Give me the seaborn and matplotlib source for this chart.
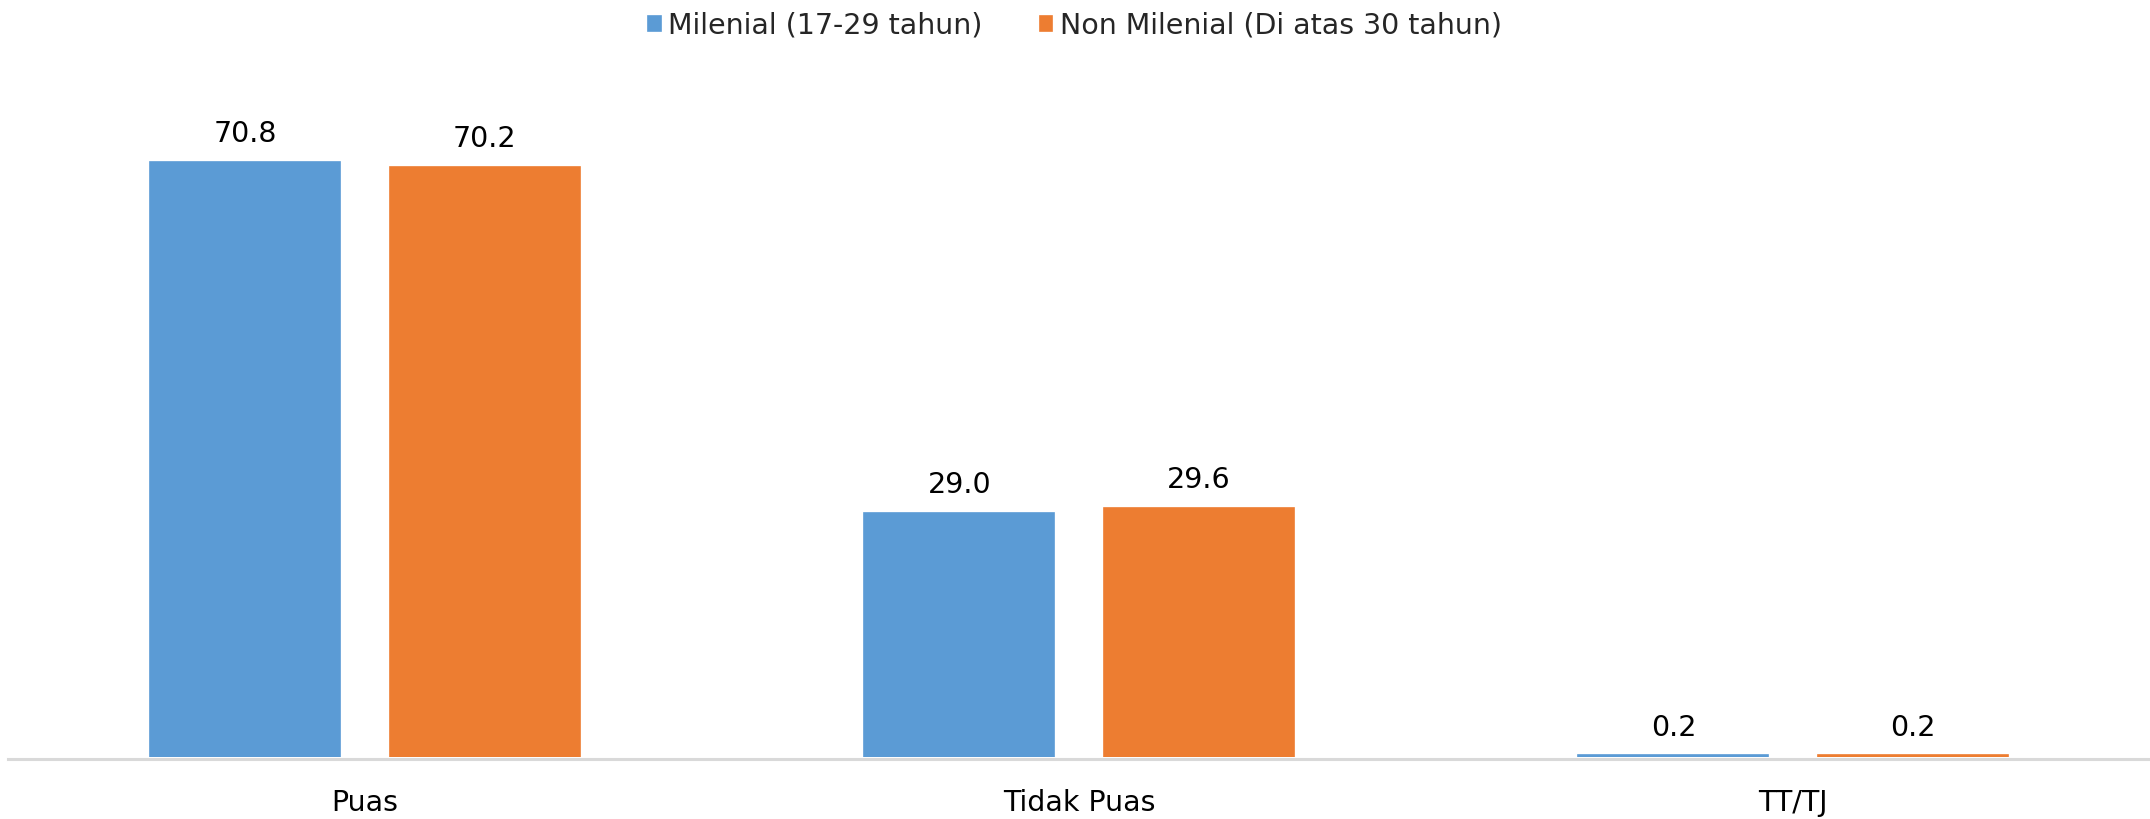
import matplotlib
matplotlib.use("Agg")
import matplotlib.pyplot as plt
import seaborn as sns
import pandas as pd

categories = ["Puas", "Tidak Puas", "TT/TJ"]
series_names = ["Milenial (17-29 tahun)", "Non Milenial (Di atas 30 tahun)"]
milenial = [70.8, 29.0, 0.2]
non_milenial = [70.2, 29.6, 0.2]
colors = ["#5B9BD5", "#ED7D31"]

df = pd.DataFrame({
    "kategori": categories * 2,
    "kelompok": [series_names[0]] * 3 + [series_names[1]] * 3,
    "nilai": milenial + non_milenial,
})

sns.set_theme(style="white")
plt.rcParams["font.family"] = ["DejaVu Sans"]

fig = plt.figure(figsize=(21.5, 8.19), dpi=100)
ax = fig.add_axes([0.0037, 0.0755, 0.9963, 0.816])

sns.barplot(data=df, x="kategori", y="nilai", hue="kelompok",
            palette=colors, width=0.67, gap=0.206, saturation=1,
            errorbar=None, ax=ax, legend=True, zorder=3)

# thin outline in the fill colour keeps very short bars visible
for patch in ax.patches:
    patch.set_edgecolor(patch.get_facecolor())
    patch.set_linewidth(1.2)

ax.set_xlim(-0.5, 2.5)
ax.set_ylim(0, 79.5)
ax.set_xlabel("")
ax.set_ylabel("")
ax.set_yticks([])
for s in ["top", "right", "left"]:
    ax.spines[s].set_visible(False)
ax.spines["bottom"].set_color("#D9D9D9")
ax.spines["bottom"].set_linewidth(2.2)
ax.spines["bottom"].set_position(("outward", 1))
ax.spines["bottom"].set_zorder(2)
ax.tick_params(axis="x", length=0, pad=22, labelsize=20.5)
for t in ax.get_xticklabels():
    t.set_color("#000000")

for cont in ax.containers:
    ax.bar_label(cont, fmt="%.1f", padding=10, fontsize=20.5, color="#000000")

handles, labels = ax.get_legend_handles_labels()
ax.get_legend().remove()
fig.legend(handles, labels, loc="center", bbox_to_anchor=(0.5, 0.969),
           ncol=2, frameon=False, fontsize=20.5, handlelength=0.45,
           handleheight=0.45, handletextpad=0.25, columnspacing=2.0)

fig.savefig("out.png", dpi=100, facecolor="white")
